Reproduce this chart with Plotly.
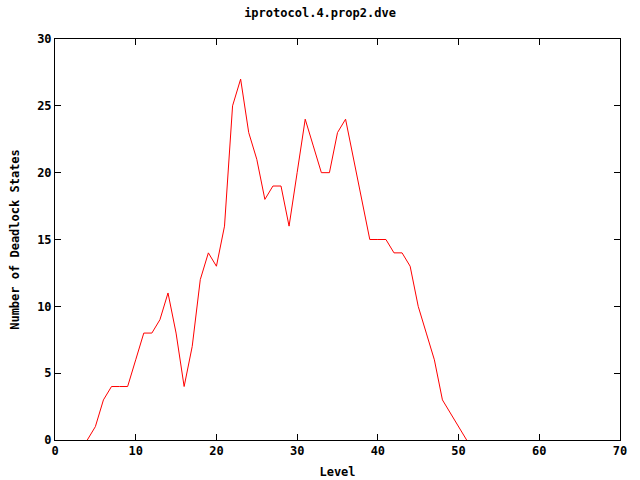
import plotly.graph_objects as go

levels = list(range(4, 52))
deadlocks = [0, 1, 3, 4, 4, 4, 6, 8, 8, 9, 11, 8, 4, 7, 12, 14, 13, 16, 25, 27,
             23, 21, 18, 19, 19, 16, 20, 24, 22, 20, 20, 23, 24, 21, 18, 15, 15, 15,
             14, 14, 13, 10, 8, 6, 3, 2, 1, 0]

title = "iprotocol.4.prop2.dve"
xlabel = "Level"
ylabel = "Number of Deadlock States"

fnt = dict(family="DejaVu Sans Mono", size=12, color="black")

fig = go.Figure()
fig.add_trace(go.Scatter(x=levels, y=deadlocks, mode="lines",
                         line=dict(color="#ff0000", width=1), showlegend=False))

axis_common = dict(showline=True, linecolor="black", linewidth=1, mirror="ticks",
                   ticks="inside", ticklen=6, tickcolor="black", showgrid=False,
                   zeroline=False, automargin=False, tickfont=fnt)

fig.update_layout(
    width=640, height=480,
    margin=dict(l=55, r=20, t=39, b=40),
    paper_bgcolor="white", plot_bgcolor="white",
    font=fnt,
    title=dict(text="<b>" + title + "</b>", x=0.5, xanchor="center", y=1 - 13 / 480, yanchor="middle",
               font=fnt),
    xaxis=dict(range=[0, 70], tickvals=list(range(0, 71, 10)),
               ticktext=["<b>%d</b>" % v for v in range(0, 71, 10)],
               title=dict(text="<b>" + xlabel + "</b>", standoff=10, font=fnt), **axis_common),
    yaxis=dict(range=[0, 30], tickvals=list(range(0, 31, 5)),
               ticktext=["<b>%d</b>" % v for v in range(0, 31, 5)],
               title=dict(text="<b>" + ylabel + "</b>", standoff=14, font=fnt), **axis_common),
)

fig.write_html("out.html", config={"displayModeBar": False},
               post_script="document.body.style.margin='0';document.body.style.padding='0';")
